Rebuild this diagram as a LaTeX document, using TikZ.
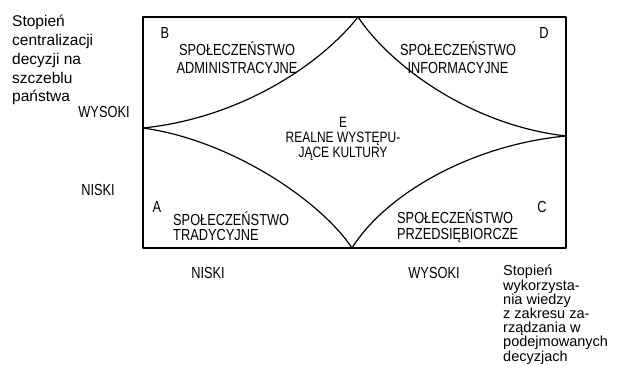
\documentclass[tikz,border=0pt]{standalone}
\usepackage{fontspec}
\setmainfont{Liberation Sans}
\newfontfamily\capsfont{Liberation Sans}[FakeStretch=0.8]
\usetikzlibrary{positioning}

\begin{document}
\begin{tikzpicture}[x=1pt,y=-1pt,
    caps/.style={inner sep=0pt, font=\capsfont\fontsize{16}{18}\selectfont},
    note/.style={inner sep=0pt, align=left, anchor=north west},
    edge/.style={line width=1.2pt, line join=round}]
    \useasboundingbox (0,0) rectangle (617,372);
    % frame and the four cusps
    \coordinate (nw) at (143,17);
    \coordinate (se) at (566,248);
    \coordinate (lcusp) at (143,128);
    \coordinate (tcusp) at (358,17);
    \coordinate (rcusp) at (566,136);
    \coordinate (bcusp) at (352,248);
    \draw[edge] (nw) rectangle (se);
    \draw[edge] (lcusp) .. controls (240,118) and (320,65) .. (tcusp);
    \draw[edge] (tcusp) .. controls (390,65) and (470,125) .. (rcusp);
    \draw[edge] (lcusp) .. controls (230,140) and (320,200) .. (bcusp);
    \draw[edge] (bcusp) .. controls (385,195) and (470,145) .. (rcusp);
    % quadrant letters
    \node[caps] (lb) at (165,33){B};
    \node[caps] (ld) at (544,33){D};
    \node[caps] (la) at (157,207){A};
    \node[caps] (lc) at (542,207){C};
    % quadrant texts
    \node[caps, align=center] (adm) at (237,58){SPOŁECZEŃSTWO\\ADMINISTRACYJNE};
    \node[caps, align=center] (inf) at (458,58){SPOŁECZEŃSTWO\\INFORMACYJNE};
    \node[caps, align=left, anchor=west, font=\capsfont\fontsize{16}{15.5}\selectfont] (trad) at (173,226){SPOŁECZEŃSTWO\\TRADYCYJNE};
    \node[caps, align=left, anchor=west, font=\capsfont\fontsize{16}{15.5}\selectfont] (prz) at (397,226){SPOŁECZEŃSTWO\\PRZEDSIĘBIORCZE};
    \node[caps, align=center, font=\capsfont\fontsize{15}{14.8}\selectfont] (real) at (343,139){E\\REALNE WYSTĘPU-\\JĄCE KULTURY};
    % axis values
    \node[caps] (vhigh) at (104,112){WYSOKI};
    \node[caps] (vlow) at (98,190){NISKI};
    \node[caps] (hlow) at (208,273){NISKI};
    \node[caps] (hhigh) at (434,273){WYSOKI};
    % axis titles
    \node[note, font=\fontsize{15.5}{18.8}\selectfont] (vtitle) at (12,15){Stopień\\centralizacji\\decyzji na\\szczeblu\\państwa};
    \node[note, font=\fontsize{14.5}{14.2}\selectfont] (htitle) at (503,265){Stopień\\wykorzysta-\\nia wiedzy\\z zakresu za-\\rządzania w\\podejmowanych\\decyzjach};
\end{tikzpicture}
\end{document}
